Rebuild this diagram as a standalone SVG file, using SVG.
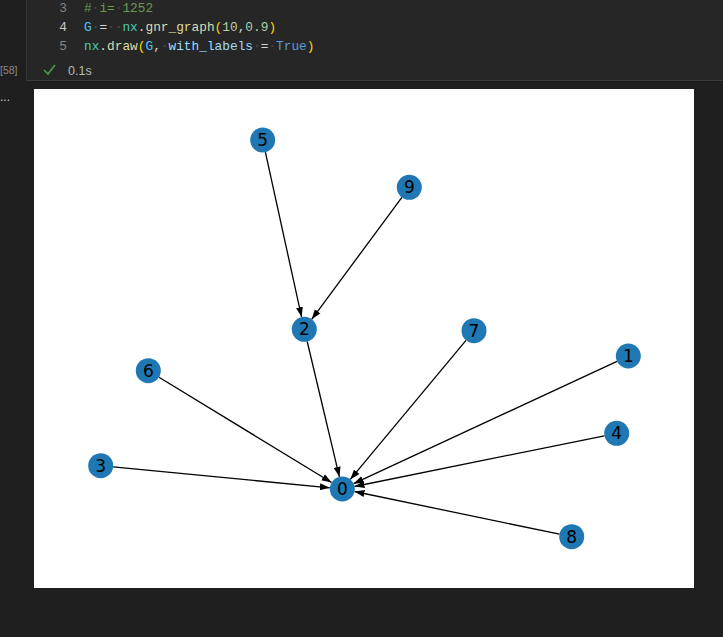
<svg xmlns="http://www.w3.org/2000/svg" width="723" height="637" viewBox="0 0 723 637">
<defs>
<style>
.code{font-family:"Liberation Mono","DejaVu Sans Mono",monospace;font-size:12.8px;}
.ln{fill:#858585;text-anchor:end;}
.ws{fill:#4d4d4d;}
.node circle{fill:#1f78b4;}
.node text{font-family:"DejaVu Sans",sans-serif;font-size:17px;fill:#000;text-anchor:middle;dominant-baseline:central;}
.edges line{stroke:#000;stroke-width:1.3;marker-end:url(#arr);}
</style>
<marker id="arr" markerUnits="userSpaceOnUse" markerWidth="11" markerHeight="9" refX="10" refY="4" orient="auto">
<path d="M0,0.5 L10,4 L0,7.5 z" fill="#000"/>
</marker>
</defs>
<rect x="0" y="0" width="723" height="637" fill="#1f1f1f"/>
<rect x="26" y="0" width="697" height="80" fill="#262626"/>
<line x1="26" y1="80.5" x2="723" y2="80.5" stroke="#3a3a3e" stroke-width="1"/>
<line x1="26.5" y1="0" x2="26.5" y2="80" stroke="#333336" stroke-width="1"/>
<g class="code">
<text x="67" y="11.5" class="ln">3</text>
<text x="67" y="30.5" class="ln" style="fill:#c6c6c6">4</text>
<text x="67" y="50" class="ln">5</text>
<text x="84" y="11.5" fill="#6a9955">#<tspan class="ws">·</tspan>i=<tspan class="ws">·</tspan>1252</text>
<text x="84" y="30.5"><tspan fill="#4fc1ff">G</tspan><tspan class="ws">·</tspan><tspan fill="#d4d4d4">=</tspan><tspan class="ws">··</tspan><tspan fill="#4ec9b0">nx</tspan><tspan fill="#d4d4d4">.</tspan><tspan fill="#dcdcaa">gnr_graph</tspan><tspan fill="#ffd700">(</tspan><tspan fill="#b5cea8">10</tspan><tspan fill="#d4d4d4">,</tspan><tspan fill="#b5cea8">0.9</tspan><tspan fill="#ffd700">)</tspan></text>
<text x="84" y="50"><tspan fill="#4ec9b0">nx</tspan><tspan fill="#d4d4d4">.</tspan><tspan fill="#dcdcaa">draw</tspan><tspan fill="#ffd700">(</tspan><tspan fill="#4fc1ff">G</tspan><tspan fill="#d4d4d4">,</tspan><tspan class="ws">·</tspan><tspan fill="#9cdcfe">with_labels</tspan><tspan class="ws">·</tspan><tspan fill="#d4d4d4">=</tspan><tspan class="ws">·</tspan><tspan fill="#569cd6">True</tspan><tspan fill="#ffd700">)</tspan></text>
</g>
<text x="0" y="74" font-family="'Liberation Sans',sans-serif" font-size="10.5" fill="#8a8a8a">[58]</text>
<text x="0" y="101" font-family="'Liberation Sans',sans-serif" font-size="12" fill="#cccccc">...</text>
<path d="M44,70 L48,74 L55,65" fill="none" stroke="#4e9a4e" stroke-width="1.6"/>
<text x="68" y="75" font-family="'Liberation Sans',sans-serif" font-size="12.5" fill="#b8b8b8">0.1s</text>
<rect x="34" y="89" width="660" height="499" fill="#ffffff"/>
<g class="edges">
<line x1="265.4" y1="152.2" x2="301.6" y2="317.1"/>
<line x1="401.9" y1="197.4" x2="311.7" y2="319.3"/>
<line x1="307.2" y1="341.5" x2="339.4" y2="476.8"/>
<line x1="159.0" y1="377.2" x2="331.6" y2="482.5"/>
<line x1="113.1" y1="466.9" x2="329.9" y2="487.8"/>
<line x1="466.0" y1="340.3" x2="350.3" y2="479.4"/>
<line x1="617.0" y1="361.3" x2="353.6" y2="483.7"/>
<line x1="604.4" y1="435.8" x2="354.5" y2="486.5"/>
<line x1="559.5" y1="534.2" x2="354.5" y2="491.5"/>
</g>
<g id="node0" class="node"><circle cx="342.3" cy="489" r="12.5"/><text x="342.3" y="489">0</text></g>
<g id="node1" class="node"><circle cx="628.3" cy="356" r="12.5"/><text x="628.3" y="356">1</text></g>
<g id="node2" class="node"><circle cx="304.3" cy="329.3" r="12.5"/><text x="304.3" y="329.3">2</text></g>
<g id="node3" class="node"><circle cx="100.7" cy="465.7" r="12.5"/><text x="100.7" y="465.7">3</text></g>
<g id="node4" class="node"><circle cx="616.7" cy="433.3" r="12.5"/><text x="616.7" y="433.3">4</text></g>
<g id="node5" class="node"><circle cx="262.7" cy="140" r="12.5"/><text x="262.7" y="140">5</text></g>
<g id="node6" class="node"><circle cx="148.3" cy="370.7" r="12.5"/><text x="148.3" y="370.7">6</text></g>
<g id="node7" class="node"><circle cx="474" cy="330.7" r="12.5"/><text x="474" y="330.7">7</text></g>
<g id="node8" class="node"><circle cx="571.7" cy="536.7" r="12.5"/><text x="571.7" y="536.7">8</text></g>
<g id="node9" class="node"><circle cx="409.3" cy="187.3" r="12.5"/><text x="409.3" y="187.3">9</text></g>
</svg>
